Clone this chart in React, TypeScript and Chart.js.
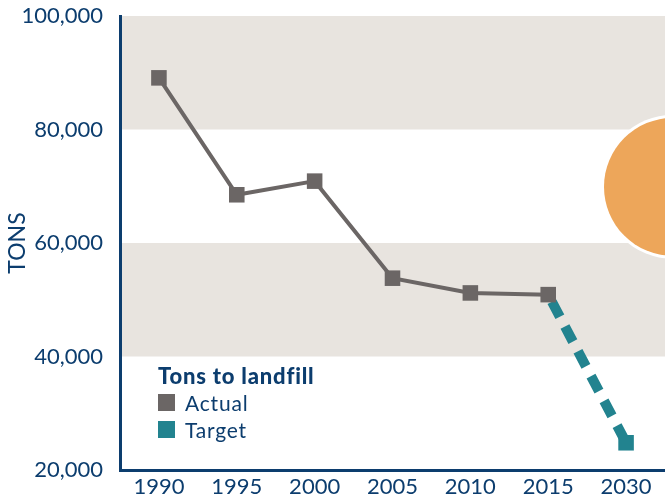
import React, { useEffect, useRef } from "react";
import { Chart, registerables } from "chart.js";
Chart.register(...registerables);

const categories = ["1990", "1995", "2000", "2005", "2010", "2015", "2030"];
const actualValues: (number | null)[] = [89100, 68500, 70900, 53800, 51200, 50900, null];
const targetValues: (number | null)[] = [null, null, null, null, null, 50900, 24800];
const targetMarkerSizes = [0, 0, 0, 0, 0, 0, 11];
const yTickValues = [20000, 40000, 60000, 80000, 100000];
const shadedBands: [number, number][] = [[80000, 100000], [40000, 60000]];
const seriesNames = ["Actual", "Target"];
const legendTitle = "Tons to landfill";
const yAxisTitle = "TONS";

const BLUE = "#0C3D6E";
const GRAY = "#6B6665";
const TEAL = "#22838F";
const BAND = "#E8E4DF";
const ORANGE = "#EDA65A";
const FONT = "Lato, 'Open Sans', sans-serif";

const decorPlugin = {
  id: "decor",
  beforeDraw(chart: any) {
    const { ctx, chartArea, scales } = chart;
    const y = scales.y;
    ctx.save();
    ctx.fillStyle = BAND;
    for (const [lo, hi] of shadedBands) {
      const top = y.getPixelForValue(hi);
      const bottom = y.getPixelForValue(lo);
      ctx.fillRect(chartArea.left, top, chartArea.right - chartArea.left, bottom - top);
    }
    // decorative circle
    const cx = chartArea.right + 8;
    const cy = y.getPixelForValue(69900);
    ctx.beginPath();
    ctx.arc(cx, cy, 72, 0, Math.PI * 2);
    ctx.fillStyle = "#FFFFFF";
    ctx.fill();
    ctx.beginPath();
    ctx.arc(cx, cy, 69, 0, Math.PI * 2);
    ctx.fillStyle = ORANGE;
    ctx.fill();
    ctx.restore();
  },
};

export default function App() {
  const canvasRef = useRef<HTMLCanvasElement>(null);

  useEffect(() => {
    document.body.style.margin = "0";
    const chart = new Chart(canvasRef.current!, {
      type: "line",
      data: {
        labels: categories,
        datasets: [
          {
            label: seriesNames[0],
            data: actualValues,
            borderColor: GRAY,
            backgroundColor: GRAY,
            borderWidth: 4,
            pointStyle: "rect",
            pointRadius: 11,
            pointBackgroundColor: GRAY,
            pointBorderWidth: 0,
            tension: 0,
          },
          {
            label: seriesNames[1],
            data: targetValues,
            borderColor: TEAL,
            backgroundColor: TEAL,
            borderWidth: 10,
            borderDash: [17, 11],
            borderDashOffset: 20,
            borderCapStyle: "butt",
            pointStyle: "rect",
            pointRadius: targetMarkerSizes,
            pointBackgroundColor: TEAL,
            pointBorderWidth: 0,
            tension: 0,
          },
        ],
      },
      options: {
        animation: false,
        responsive: false,
        maintainAspectRatio: false,
        layout: { autoPadding: false, padding: { top: 16, right: 0, left: 0, bottom: 0 } },
        plugins: {
          legend: { display: false },
          tooltip: { enabled: false },
        },
        scales: {
          x: {
            type: "category",
            offset: true,
            grid: { display: false },
            border: { display: true, color: BLUE, width: 3 },
            ticks: {
              color: BLUE,
              font: { family: FONT, size: 22 },
              padding: -4,
              maxRotation: 0,
            },
            afterFit(scale: any) {
              scale.height = 31;
              scale.paddingLeft = 0;
              scale.paddingRight = 0;
            },
          },
          y: {
            min: 20000,
            max: 100000,
            grid: { display: false },
            border: { display: true, color: BLUE, width: 3 },
            afterBuildTicks(scale: any) {
              scale.ticks = yTickValues.map((v) => ({ value: v }));
            },
            ticks: {
              color: BLUE,
              font: { family: FONT, size: 22 },
              padding: 9,
              callback: (v: any) => Number(v).toLocaleString("en-US"),
            },
            title: {
              display: true,
              text: yAxisTitle,
              color: BLUE,
              font: { family: FONT, size: 23 },
              padding: { top: 4, bottom: 0 },
            },
            afterFit(scale: any) {
              scale.width = 120;
              scale.paddingTop = 0;
              scale.paddingBottom = 0;
            },
          },
        },
      },
      plugins: [decorPlugin],
    });
    return () => chart.destroy();
  }, []);

  const legendColors = [GRAY, TEAL];

  return (
    <div style={{ position: "relative", width: 665, height: 501, fontFamily: FONT }}>
      <canvas ref={canvasRef} width={665} height={501} style={{ display: "block" }} />
      <div
        style={{
          position: "absolute",
          left: 158,
          top: 362,
          color: BLUE,
          lineHeight: "27px",
        }}
      >
        <div style={{ fontWeight: 900, fontSize: 22, letterSpacing: 0.8 }}>{legendTitle}</div>
        {seriesNames.map((name, i) => (
          <div
            key={name}
            style={{ display: "flex", alignItems: "center", fontSize: 21, letterSpacing: 0.8 }}
          >
            <span
              style={{
                display: "inline-block",
                width: 17,
                height: 17,
                background: legendColors[i],
                marginRight: 10,
              }}
            />
            {name}
          </div>
        ))}
      </div>
    </div>
  );
}
